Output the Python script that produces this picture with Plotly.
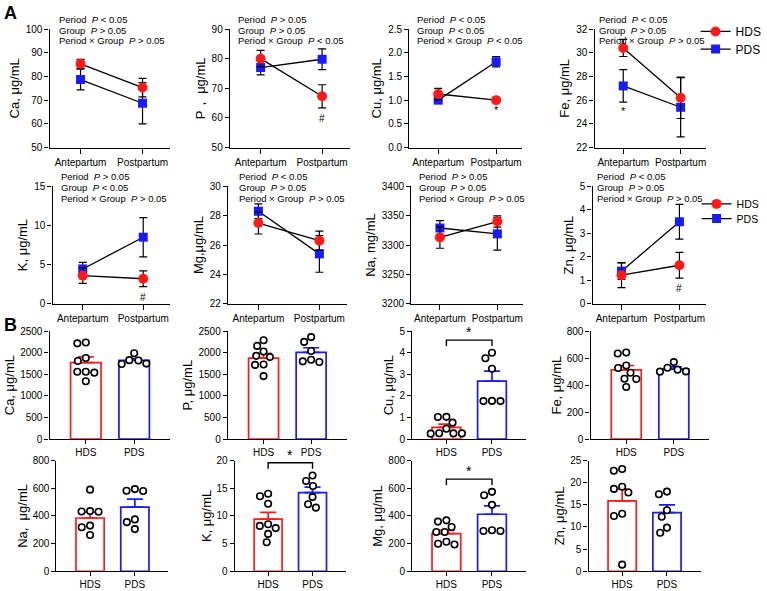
import numpy as np
import plotly.graph_objects as go

W, H = 767, 591
FONT = "Arial, Liberation Sans, sans-serif"
RED = "#FF1A1A"
BLUE = "#1A1AFF"

PERIODS = ["Antepartum", "Postpartum"]
GROUPS = ["HDS", "PDS"]

# ---------------- Panel A: mean ± SEM at two periods ----------------
A_ELEMENTS = ["Ca", "P", "Cu", "Fe", "K", "Mg", "Na", "Zn"]
A_YTITLES = ["Ca, μg/mL", "P， μg/mL", "Cu, μg/mL", "Fe, μg/mL",
             "K, μg/mL", "Mg,μg/mL", "Na, mg/mL", "Zn, μg/mL"]
A_HDS_ANTE = [85.3, 80.0, 1.13, 30.4, 3.6, 27.5, 3313, 1.22]
A_HDS_POST = [75.3, 67.3, 1.00, 26.2, 3.2, 26.3, 3340, 1.64]
A_PDS_ANTE = [78.7, 77.0, 1.00, 27.2, 4.45, 28.3, 3329, 1.39]
A_PDS_POST = [68.7, 79.8, 1.81, 25.4, 8.5, 25.4, 3319, 3.49]
A_HDS_ANTE_SEM = [1.9, 2.8, 0.12, 0.72, 1.0, 0.75, 18.5, 0.53]
A_HDS_POST_SEM = [3.9, 3.9, 0.02, 1.75, 1.0, 0.65, 9.5, 0.55]
A_PDS_ANTE_SEM = [4.4, 2.5, 0.05, 1.37, 0.85, 0.5, 12.7, 0.35]
A_PDS_POST_SEM = [8.7, 3.5, 0.11, 2.5, 2.5, 1.25, 27.7, 0.74]
A_YMIN = [50, 50, 0, 22, 0, 22, 3200, 0]
A_YMAX = [100, 90, 2.5, 32, 15, 30, 3400, 5]
A_YSTEP = [10, 10, 0.5, 2, 5, 2, 50, 1]
A_PERIOD_P = ["<", ">", "<", "<", ">", "<", ">", "<"]
A_GROUP_P = [">", ">", "<", ">", "<", ">", ">", ">"]
A_INTER_P = [">", "<", "<", ">", ">", ">", ">", ">"]
# post-hoc marks: (element, period index, group, symbol)
A_MARK_ELEMENT = ["P", "Cu", "Fe", "K", "Zn"]
A_MARK_PERIOD = [1, 1, 0, 1, 1]
A_MARK_GROUP = ["HDS", "HDS", "PDS", "HDS", "HDS"]
A_MARK_TEXT = ["#", "*", "*", "#", "#"]

# ---------------- Panel B: individual values, mean + SEM ----------------
B_ELEMENTS = ["Ca", "P", "Cu", "Fe", "Na", "K", "Mg", "Zn"]
B_YTITLES = ["Ca, μg/mL", "P, μg/mL", "Cu, μg/mL", "Fe, μg/mL",
             "Na,  μg/mL", "K, μg/mL", "Mg, μg/mL", "Zn, μg/mL"]
B_HDS_MEAN = [1774, 1877, 0.54, 514, 385, 9.43, 272, 15.9]
B_HDS_SEM = [130, 113, 0.15, 32, 43, 1.2, 24, 2.66]
B_PDS_MEAN = [1827, 2012, 2.69, 519, 463, 14.2, 412, 13.26]
B_PDS_SEM = [38, 106, 0.46, 17, 59, 1.0, 61, 1.74]
B_YMAX = [2500, 2500, 5, 800, 800, 20, 800, 25]
B_YSTEP = [500, 500, 1, 200, 200, 5, 200, 5]
B_SIG_ELEMENTS = ["Cu", "K", "Mg"]

b_ca_hds = [2240, 2220, 1880, 1810, 1560, 1560, 1540, 1340]
b_ca_pds = [1990, 1830, 1820, 1750, 1740]
b_p_hds = [2290, 2160, 2030, 1930, 1900, 1730, 1720, 1460]
b_p_pds = [2365, 2253, 2043, 1840, 1802, 1787]
b_cu_hds = [1.03, 1.02, 0.76, 0.48, 0.27, 0.26, 0.26, 0.25]
b_cu_pds = [4.0, 3.75, 3.26, 1.77, 1.76, 1.76]
b_fe_hds = [642, 635, 546, 527, 492, 448, 446, 386]
b_fe_pds = [571, 529, 515, 502, 500]
b_na_hds = [590, 435, 432, 430, 330, 318, 262]
b_na_pds = [594, 582, 580, 375, 355, 305]
b_k_hds = [14.0, 13.55, 12.2, 8.5, 8.2, 7.8, 6.75, 5.25]
b_k_pds = [17.3, 16.3, 15.4, 13.4, 12.1, 11.5]
b_mg_hds = [368, 359, 320, 284, 284, 213, 199, 194]
b_mg_pds = [574, 550, 480, 296, 291, 291]
b_zn_hds = [23.1, 22.7, 19.1, 18.6, 17.8, 13.0, 12.5, 1.5]
b_zn_pds = [18.0, 17.4, 13.8, 12.3, 9.85, 8.7]

B_POINTS_HDS = [b_ca_hds, b_p_hds, b_cu_hds, b_fe_hds, b_na_hds, b_k_hds, b_mg_hds, b_zn_hds]
B_POINTS_PDS = [b_ca_pds, b_p_pds, b_cu_pds, b_fe_pds, b_na_pds, b_k_pds, b_mg_pds, b_zn_pds]

# ---------------- geometry (pixels: x0, x1, ytop, ybottom) ----------------
A_BOX = [(50, 172, 23.5, 144.5), (232, 353, 23.5, 144.5), (413, 527, 23.5, 144.5), (600, 713, 23.5, 144.5),
         (53, 172, 184, 304), (230, 350, 184, 304), (415, 528, 184, 304), (598, 712, 184, 304)]
A_TEXT_DX = [8, 6, 6, 2, 7, 9, 6, 2]
B_BOX = [(50, 172, 332, 442), (230, 350, 332, 442), (416, 531, 332, 442), (596, 716, 332, 442),
         (57, 170, 464, 577), (237, 349, 464, 577), (416, 531, 464, 577), (594, 707, 464, 577)]
A_XR = [-0.5, 1.45]
B_XR = [-0.75, 1.75]


def fx(px):
    return px / W


def fy(py):
    return 1 - py / H


def axis_common():
    return dict(showline=True, linecolor="black", linewidth=1.3, ticks="outside", ticklen=4,
                tickwidth=1.2, tickcolor="black", showgrid=False, zeroline=False, fixedrange=True,
                tickfont=dict(size=10, family=FONT, color="black"))


def swarm_offsets(vals, ppy, diam):
    ys = np.asarray(vals, float) * ppy
    order = np.argsort(-ys, kind="stable")
    placed = []
    offs = np.zeros(len(ys))
    for i in order:
        ivals = []
        for xp, yp in placed:
            dy = abs(ys[i] - yp)
            if dy < diam:
                dx = np.sqrt(diam ** 2 - dy ** 2)
                ivals.append((xp - dx, xp + dx))
        cands = [0.0] + [e for iv in ivals for e in iv]
        cands.sort(key=lambda c: (round(abs(c), 6), c))
        for c in cands:
            if all(not (lo + 1e-6 < c < hi - 1e-6) for lo, hi in ivals):
                offs[i] = c
                break
        placed.append((offs[i], ys[i]))
    return offs


fig = go.Figure()
layout = dict(width=W, height=H, margin=dict(l=0, r=0, t=0, b=0), paper_bgcolor="white",
              plot_bgcolor="white", font=dict(family=FONT, color="black"), barmode="overlay",
              showlegend=True)
annotations = []
shapes = []

k = 0
# ---------------- A panels ----------------
for i, el in enumerate(A_ELEMENTS):
    k += 1
    x0, x1, y0, y1 = A_BOX[i]
    xa, ya = f"x{k}", f"y{k}"
    xk, yk = f"xaxis{k}", f"yaxis{k}"
    ax = axis_common()
    ax.update(domain=[fx(x0), fx(x1)], range=A_XR, anchor=ya, tickvals=[0, 1], ticktext=PERIODS,
              ticklen=5)
    layout[xk] = ax
    ay = axis_common()
    tv = list(np.round(np.arange(A_YMIN[i], A_YMAX[i] + A_YSTEP[i] / 2, A_YSTEP[i]), 6))
    ay.update(domain=[fy(y1), fy(y0)], range=[A_YMIN[i], A_YMAX[i]], anchor=xa, tickvals=tv,
              tickformat=".1f" if A_YSTEP[i] < 1 else "d",
              title=dict(text=A_YTITLES[i], font=dict(size=13, family=FONT), standoff=3))
    layout[yk] = ay

    series = [("PDS", [A_PDS_ANTE[i], A_PDS_POST[i]], [A_PDS_ANTE_SEM[i], A_PDS_POST_SEM[i]], BLUE, "square", 9),
              ("HDS", [A_HDS_ANTE[i], A_HDS_POST[i]], [A_HDS_ANTE_SEM[i], A_HDS_POST_SEM[i]], RED, "circle", 10)]
    for name, yv, ev, col, sym, sz in series:
        leg = None
        show = False
        if k == 4:
            leg, show = ("legend" if name == "HDS" else "legend2"), True
        if k == 8:
            leg, show = ("legend3" if name == "HDS" else "legend4"), True
        tr = go.Scatter(x=[0, 1], y=yv, mode="lines+markers", name=name, xaxis=xa, yaxis=ya,
                        line=dict(color="black", width=1.3),
                        marker=dict(color=col, symbol=sym, size=sz, line=dict(width=0)),
                        error_y=dict(type="data", array=ev, visible=True, color="black",
                                     thickness=1.2, width=4),
                        cliponaxis=False, showlegend=show)
        if leg:
            tr.update(legend=leg)
        fig.add_trace(tr)

    # P-value texts
    tx = fx(x0 + A_TEXT_DX[i])
    lines = [f"Period\u00a0\u00a0<i>P</i>\u00a0{A_PERIOD_P[i]}\u00a00.05",
             f"Group\u00a0\u00a0<i>P</i>\u00a0{A_GROUP_P[i]}\u00a00.05",
             f"Period\u00a0×\u00a0Group\u00a0\u00a0<i>P</i>\u00a0{A_INTER_P[i]}\u00a00.05"]
    for j, t in enumerate(lines):
        annotations.append(dict(text=t, xref="paper", yref="paper", x=tx, y=fy(y0 - 10 + 11 * j),
                                xanchor="left", yanchor="middle", showarrow=False,
                                font=dict(size=9.5, family=FONT, color="black")))

# post-hoc marks in A
for el, per, grp, sym in zip(A_MARK_ELEMENT, A_MARK_PERIOD, A_MARK_GROUP, A_MARK_TEXT):
    i = A_ELEMENTS.index(el)
    kk = i + 1
    if grp == "HDS":
        m = [A_HDS_ANTE[i], A_HDS_POST[i]][per]
        e = [A_HDS_ANTE_SEM[i], A_HDS_POST_SEM[i]][per]
    else:
        m = [A_PDS_ANTE[i], A_PDS_POST[i]][per]
        e = [A_PDS_ANTE_SEM[i], A_PDS_POST_SEM[i]][per]
    annotations.append(dict(text=sym, xref=f"x{kk}", yref=f"y{kk}", x=per, y=m - e,
                            yanchor="top", yshift=-3 if sym == "#" else -1, showarrow=False,
                            font=dict(size=10 if sym == "#" else 11, family=FONT, color="black")))

# ---------------- B panels ----------------
for i, el in enumerate(B_ELEMENTS):
    k += 1
    x0, x1, y0, y1 = B_BOX[i]
    xa, ya = f"x{k}", f"y{k}"
    xk, yk = f"xaxis{k}", f"yaxis{k}"
    ax = axis_common()
    ax.update(domain=[fx(x0), fx(x1)], range=B_XR, anchor=ya, tickvals=[0, 1], ticktext=GROUPS)
    layout[xk] = ax
    ay = axis_common()
    tv = list(np.round(np.arange(0, B_YMAX[i] + B_YSTEP[i] / 2, B_YSTEP[i]), 6))
    ay.update(domain=[fy(y1), fy(y0)], range=[0, B_YMAX[i]], anchor=xa, tickvals=tv,
              tickformat="d",
              title=dict(text=B_YTITLES[i], font=dict(size=13, family=FONT), standoff=2))
    layout[yk] = ay

    ppy = (y1 - y0) / B_YMAX[i]
    ppx = (x1 - x0) / (B_XR[1] - B_XR[0])
    for g, (mean, sem, pts, col) in enumerate([(B_HDS_MEAN[i], B_HDS_SEM[i], B_POINTS_HDS[i], RED),
                                                (B_PDS_MEAN[i], B_PDS_SEM[i], B_POINTS_PDS[i], BLUE)]):
        fig.add_trace(go.Bar(x=[g], y=[mean], width=0.63, xaxis=xa, yaxis=ya, showlegend=False,
                             marker=dict(color="white", line=dict(color=col, width=1.7)),
                             error_y=dict(type="data", array=[sem], arrayminus=[0], symmetric=False,
                                          color=col, thickness=1.7, width=8)))
        offs = swarm_offsets(pts, ppy, 8.6) / ppx
        fig.add_trace(go.Scatter(x=g + offs, y=pts, mode="markers", xaxis=xa, yaxis=ya,
                                 showlegend=False, cliponaxis=False,
                                 marker=dict(symbol="circle", size=6.5, color="white",
                                             line=dict(color="black", width=1.6))))

    if el in B_SIG_ELEMENTS:
        top = max(max(B_POINTS_HDS[i]), max(B_POINTS_PDS[i]), B_HDS_MEAN[i] + B_HDS_SEM[i],
                  B_PDS_MEAN[i] + B_PDS_SEM[i])
        leg_lo = top + 7 / ppy
        leg_hi = leg_lo + 6 / ppy
        shapes.append(dict(type="path", xref=xa, yref=ya,
                           path=f"M 0,{leg_lo} L 0,{leg_hi} L 1,{leg_hi} L 1,{leg_lo}",
                           line=dict(color="black", width=1.4)))
        annotations.append(dict(text="*", xref=xa, yref=ya, x=0.5, y=leg_hi, yanchor="bottom",
                                yshift=-2, showarrow=False,
                                font=dict(size=14, family=FONT, color="black")))

# panel letters
annotations.append(dict(text="<b>A</b>", xref="paper", yref="paper", x=fx(2), y=fy(7), xanchor="left",
                        yanchor="middle", showarrow=False, font=dict(size=18, family=FONT, color="black")))
annotations.append(dict(text="<b>B</b>", xref="paper", yref="paper", x=fx(2), y=fy(326), xanchor="left",
                        yanchor="middle", showarrow=False, font=dict(size=18, family=FONT, color="black")))

leg_common = dict(xanchor="left", yanchor="middle", bgcolor="rgba(0,0,0,0)", borderwidth=0,
                  itemwidth=30)
layout["legend"] = dict(x=fx(702), y=fy(26), font=dict(size=12, family=FONT), **leg_common)
layout["legend2"] = dict(x=fx(702), y=fy(44), font=dict(size=12, family=FONT), **leg_common)
layout["legend3"] = dict(x=fx(703), y=fy(202), font=dict(size=10.5, family=FONT), **leg_common)
layout["legend4"] = dict(x=fx(703), y=fy(217), font=dict(size=10.5, family=FONT), **leg_common)

layout["annotations"] = annotations
layout["shapes"] = shapes
fig.update_layout(**layout)
fig.write_html("out.html")
